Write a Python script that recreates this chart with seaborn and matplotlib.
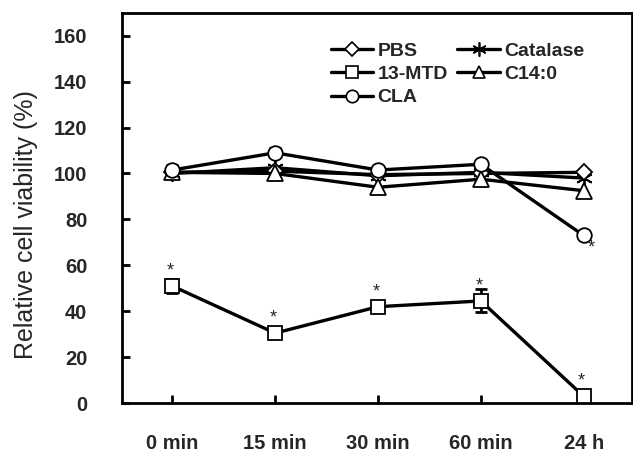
import numpy as np
import pandas as pd
import matplotlib
matplotlib.use("Agg")
import matplotlib.pyplot as plt
import seaborn as sns
from matplotlib.lines import Line2D

times = ["0 min", "15 min", "30 min", "60 min", "24 h"]
pbs = [100.5, 101.0, 99.5, 100.0, 100.5]
mtd = [51.0, 30.5, 42.0, 44.5, 3.0]
cla = [101.5, 109.0, 101.5, 104.0, 73.0]
catalase = [100.0, 102.5, 99.0, 100.5, 98.0]
c140 = [100.5, 100.0, 94.0, 97.5, 92.5]
mtd_err = [3.0, 1.5, 1.5, 5.0, 0.5]
cla_err = [2.0, 2.0, 1.0, 1.0, 1.5]
series_names = ["PBS", "13-MTD", "CLA", "Catalase", "C14:0"]
yticks = [0, 20, 40, 60, 80, 100, 120, 140, 160]

sns.set_theme(style="ticks")
plt.rcParams["font.family"] = ["Liberation Sans", "DejaVu Sans"]

values = {"PBS": pbs, "13-MTD": mtd, "CLA": cla, "Catalase": catalase, "C14:0": c140}
rows = []
for name in series_names:
    for i, v in enumerate(values[name]):
        rows.append({"series": name, "x": i, "value": v})
df = pd.DataFrame(rows)

markers = {"PBS": "D", "13-MTD": "s", "CLA": "o", "Catalase": (6, 2, 0), "C14:0": "^"}
msize = {"PBS": 8.5, "13-MTD": 10.5, "CLA": 10.5, "Catalase": 12, "C14:0": 11}

fig = plt.figure(figsize=(6.33, 4.53), dpi=100)
ax = fig.add_axes([0.193, 0.11, 0.805, 0.862])

order = ["Catalase", "PBS", "C14:0", "CLA", "13-MTD"]
for name in order:
    sub = df[df.series == name]
    sns.lineplot(data=sub, x="x", y="value", ax=ax, color="black", lw=2.4,
                 marker=markers[name], markersize=msize[name], markerfacecolor="white",
                 markeredgecolor="black", markeredgewidth=1.3, legend=False, zorder=3)

ax.errorbar(range(5), mtd, yerr=mtd_err, fmt="none", ecolor="black", elinewidth=2, capsize=4, capthick=2, zorder=2)
ax.errorbar(range(5), cla, yerr=cla_err, fmt="none", ecolor="black", elinewidth=2, capsize=4, capthick=2, zorder=2)

# significance asterisks
for i, v in enumerate(mtd):
    ax.text(i - 0.02, v + 6.5, "*", ha="center", va="center", fontsize=13)
ax.text(4.07, cla[4] - 5.5, "*", ha="center", va="center", fontsize=13)

ax.set_xlim(-0.487, 4.467)
ax.set_ylim(0, 170)
ax.set_xticks(range(5))
ax.set_xticklabels(times, fontweight="bold", fontsize=14.5)
ax.set_yticks(yticks)
ax.set_yticklabels([str(t) for t in yticks], fontweight="bold", fontsize=14.5)
ax.tick_params(direction="in", length=6, width=2, color="black")
ax.tick_params(axis="y", pad=25)
ax.tick_params(axis="x", pad=22)
ax.set_xlabel("")
ax.set_ylabel("Relative cell viability (%)", fontsize=18)
ax.yaxis.set_label_coords(-0.165, 0.458)
for s in ax.spines.values():
    s.set_linewidth(2)
    s.set_color("black")

handles = []
for name in series_names:
    handles.append(Line2D([0], [0], color="black", lw=2.4, marker=markers[name],
                          markersize=msize[name] * 0.85, markerfacecolor="white",
                          markeredgecolor="black", markeredgewidth=1.2, label=name))
leg = ax.legend(handles=handles, ncol=2, loc="upper left", bbox_to_anchor=(0.39, 0.95),
                frameon=False, prop={"weight": "bold", "size": 14}, handlelength=2.2,
                handletextpad=0.2, columnspacing=0.5, labelspacing=0.3, borderpad=0)

fig.savefig("out.png", dpi=100)
